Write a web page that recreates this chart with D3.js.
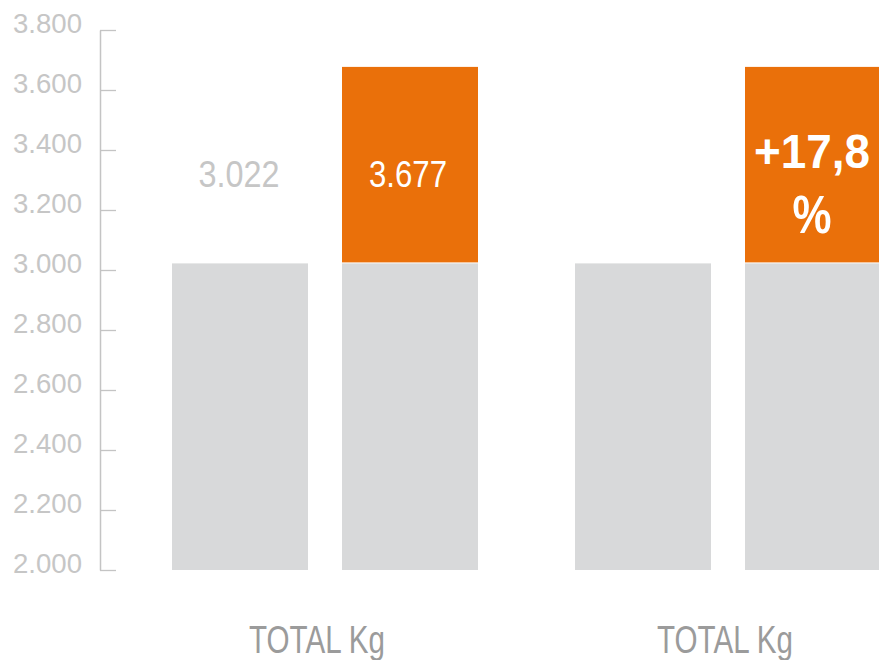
<!DOCTYPE html>
<html>
<head>
<meta charset="utf-8">
<script src="https://cdn.jsdelivr.net/npm/d3@7"></script>
<style>
  html, body { margin: 0; padding: 0; background: #ffffff; }
  svg { display: block; }
</style>
</head>
<body>
<svg id="chart" width="879" height="660"></svg>
<script>
// ---- data ----
const groupIds = ["g1", "g2"];
const groupLabels = ["TOTAL Kg", "TOTAL Kg"];
const barKeys = ["before", "after"];
const before = 3022;            // previous total (grey)
const after = 3677;             // new total (grey base + orange increase)
const barValues = [before, after];
const yTicks = [2000, 2200, 2400, 2600, 2800, 3000, 3200, 3400, 3600, 3800];
const valueLabels = ["3.022", "3.677"];
const changeLabel = ["+17,8", "%"];

// ---- layout ----
const svg = d3.select("#chart");
const yMin = 2000, yMax = 3800;
const y = d3.scaleLinear().domain([yMin, yMax]).range([570, 30]);

const xGroup = d3.scaleBand().domain(groupIds).range([172, 881])
  .paddingInner(0.2407).paddingOuter(0);
const xBar = d3.scaleBand().domain(barKeys).range([0, xGroup.bandwidth()])
  .paddingInner(0.2).paddingOuter(0);

const grey = "#d8d9da";
const orange = "#ea700a";
const font = "'Liberation Sans', Arial, sans-serif";

// ---- axis ----
const loc = d3.formatLocale({ decimal: ",", thousands: ".", grouping: [3], currency: ["", ""] });
const fmt = loc.format(",");
const axis = d3.axisLeft(y).tickValues(yTicks).tickFormat(fmt)
  .tickSizeInner(-16).tickSizeOuter(0).tickPadding(18);
const gAxis = svg.append("g").attr("transform", "translate(100,0)").call(axis);
gAxis.select(".domain").attr("stroke", "#c4c4c4").attr("stroke-width", 1.5);
gAxis.selectAll(".tick line").attr("stroke", "#c4c4c4").attr("stroke-width", 1.3);
gAxis.selectAll(".tick text")
  .attr("dy", "2px")
  .attr("fill", "#c6c6c6")
  .attr("textLength", 69).attr("lengthAdjust", "spacingAndGlyphs")
  .style("font-family", font)
  .style("font-size", "27px");

// ---- bars ----
const groups = svg.selectAll("g.grp").data(groupIds).join("g")
  .attr("class", "grp")
  .attr("transform", d => `translate(${xGroup(d)},0)`);

barKeys.forEach((k, i) => {
  // grey base (up to "before" value)
  groups.append("rect")
    .attr("x", xBar(k))
    .attr("width", xBar.bandwidth())
    .attr("y", y(Math.min(barValues[i], before)))
    .attr("height", y(yMin) - y(Math.min(barValues[i], before)))
    .attr("fill", grey);
  // orange increase
  if (barValues[i] > before) {
    groups.append("rect")
      .attr("x", xBar(k))
      .attr("width", xBar.bandwidth())
      .attr("y", y(barValues[i]))
      .attr("height", y(before) - y(barValues[i]) - 1)
      .attr("fill", orange);
  }
});

// value labels in first group
const g1 = svg.select("g.grp");
g1.append("text")
  .attr("x", xBar("before") + xBar.bandwidth() / 2 - 1)
  .attr("y", 187)
  .attr("text-anchor", "middle")
  .attr("fill", "#c6c6c6")
  .attr("textLength", 81).attr("lengthAdjust", "spacingAndGlyphs")
  .style("font-family", font).style("font-size", "37px")
  .text(valueLabels[0]);
g1.append("text")
  .attr("x", xBar("after") + xBar.bandwidth() / 2 - 2)
  .attr("y", 187)
  .attr("text-anchor", "middle")
  .attr("fill", "#ffffff")
  .attr("textLength", 78).attr("lengthAdjust", "spacingAndGlyphs")
  .style("font-family", font).style("font-size", "37px")
  .text(valueLabels[1]);

// change label in second group
const g2 = svg.selectAll("g.grp").filter((d, i) => i === 1);
g2.append("text")
  .attr("x", xBar("after") + xBar.bandwidth() / 2 - 1)
  .attr("y", 168)
  .attr("text-anchor", "middle")
  .attr("fill", "#ffffff")
  .attr("textLength", 116).attr("lengthAdjust", "spacingAndGlyphs")
  .style("font-family", font).style("font-size", "48px").style("font-weight", "bold")
  .text(changeLabel[0]);
g2.append("text")
  .attr("x", xBar("after") + xBar.bandwidth() / 2 - 1)
  .attr("y", 233)
  .attr("text-anchor", "middle")
  .attr("fill", "#ffffff")
  .attr("textLength", 39).attr("lengthAdjust", "spacingAndGlyphs")
  .style("font-family", font).style("font-size", "54px").style("font-weight", "bold")
  .text(changeLabel[1]);

// group labels
groups.append("text")
  .attr("x", (d, i) => xGroup.bandwidth() / 2 + (i === 0 ? -8 : -3))
  .attr("y", 653)
  .attr("text-anchor", "middle")
  .attr("fill", "#9b9b9b")
  .attr("textLength", 136).attr("lengthAdjust", "spacingAndGlyphs")
  .style("font-family", font).style("font-size", "39px")
  .text((d, i) => groupLabels[i]);
</script>
</body>
</html>
